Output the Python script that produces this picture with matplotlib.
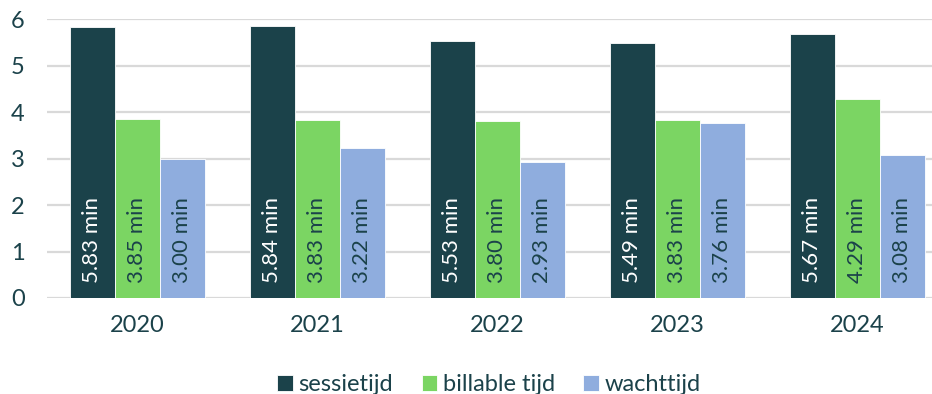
import numpy as np
import matplotlib.pyplot as plt

years = ["2020", "2021", "2022", "2023", "2024"]
series = ["sessietijd", "billable tijd", "wachttijd"]
sessietijd = [5.83, 5.84, 5.53, 5.49, 5.67]
billable = [3.85, 3.83, 3.80, 3.83, 4.29]
wachttijd = [3.00, 3.22, 2.93, 3.76, 3.08]

colors = ["#1b424a", "#7bd563", "#8fadde"]
label_colors = ["white", "#1b424a", "#1b424a"]
text_color = "#1b424a"

plt.rcParams["font.family"] = ["Lato", "DejaVu Sans"]

fig = plt.figure(figsize=(9.32, 3.94), dpi=100)
ax = fig.add_axes([47 / 932, 96 / 394, 900 / 932, 279 / 394])

x = np.arange(len(years))
width = 0.25
for i, (vals, name) in enumerate(zip([sessietijd, billable, wachttijd], series)):
    pos = x + (i - 1) * width
    ax.bar(pos, vals, width, color=colors[i], label=name, zorder=3,
           edgecolor="white", linewidth=0.6)
    for px, v in zip(pos, vals):
        ax.annotate(f"{v:.2f} min", (px, 0), xytext=(0, 11),
                    textcoords="offset points", rotation=90,
                    ha="center", va="bottom", fontsize=16,
                    color=label_colors[i], zorder=4)

ax.set_xlim(-0.5, 4.5)
ax.set_ylim(0, 6)
ax.set_yticks(range(0, 7))
ax.set_xticks(x)
ax.set_xticklabels(years)
ax.grid(axis="y", color="#d9d9d9", linewidth=1.6, zorder=0)
ax.tick_params(axis="both", length=0, labelsize=17, colors=text_color)
ax.tick_params(axis="x", pad=12)
ax.tick_params(axis="y", pad=16)
for s in ax.spines.values():
    s.set_visible(False)

ax.legend(loc="center", bbox_to_anchor=(442 / 900, -0.31), ncol=3,
          frameon=False, fontsize=17, handlelength=0.65, handleheight=0.65,
          handletextpad=0.25, columnspacing=1.2, labelcolor=text_color)

fig.savefig("out.png", dpi=100)
